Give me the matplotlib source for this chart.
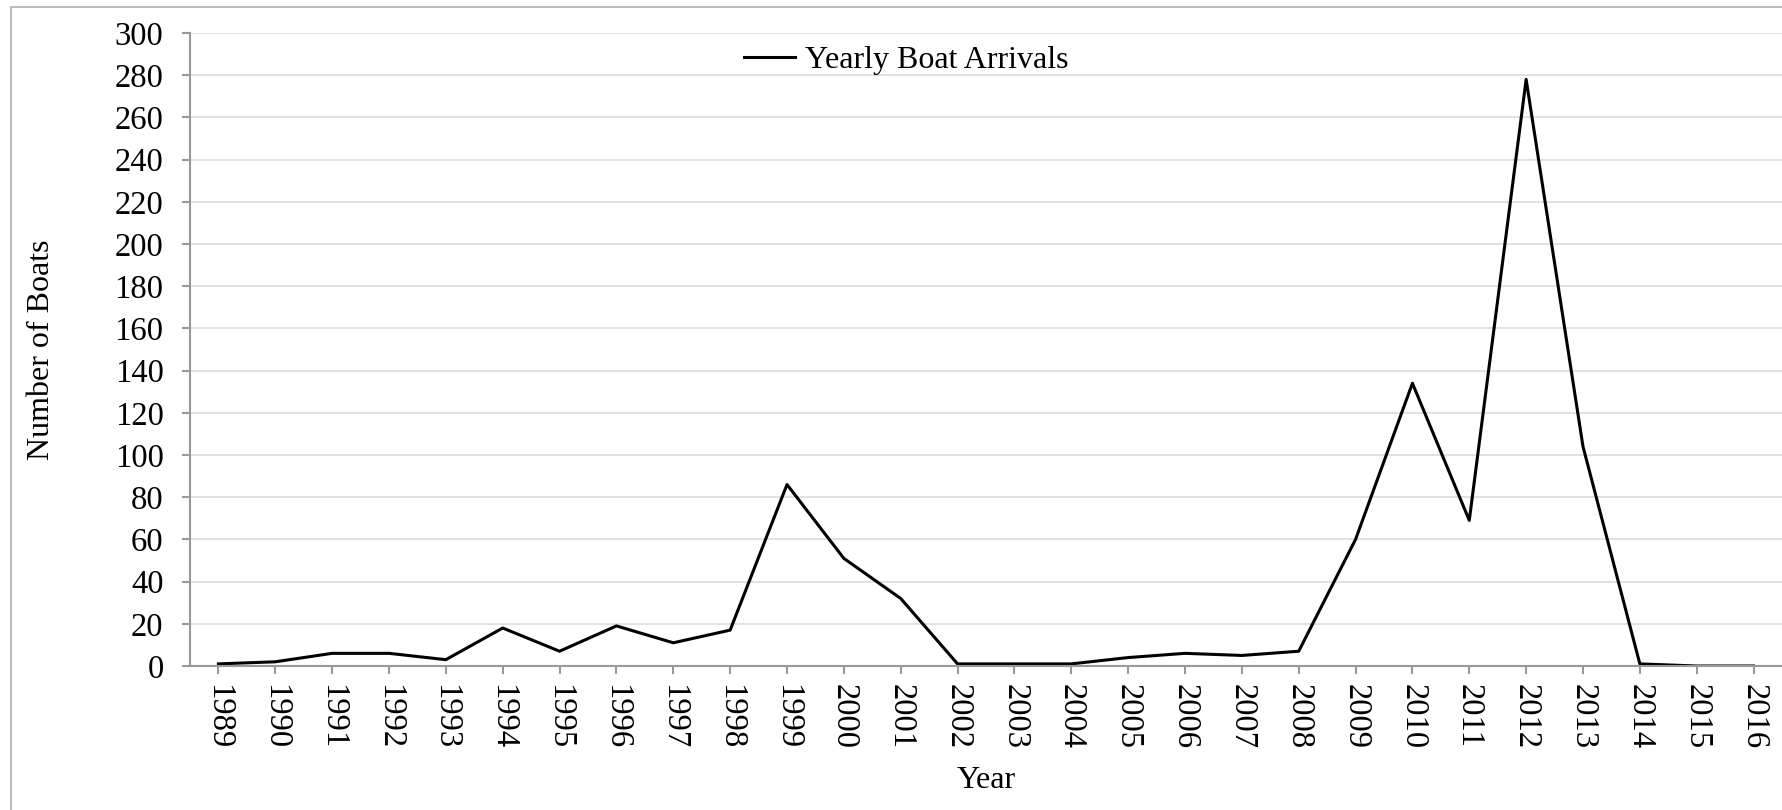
import numpy as np
import matplotlib.pyplot as plt
from matplotlib.patches import Rectangle

# yearly boat arrivals
years = list(range(1989, 2017))
boats = [1, 2, 6, 6, 3, 18, 7, 19, 11, 17,
         86, 51, 32, 1, 1, 1, 4, 6, 5, 7,
         60, 134, 69, 278, 104, 1, 0, 0]
yticks = list(range(0, 301, 20))

plt.rcParams['font.family'] = ['Liberation Serif', 'DejaVu Serif']

fig = plt.figure(figsize=(17.82, 8.10), dpi=100)

# outer chart frame (runs off the right and bottom edges)
fig.patches.append(Rectangle((11/1782, -0.05), 1.2, 1 - 7/810 + 0.05,
                             transform=fig.transFigure, fill=False,
                             edgecolor='#b0b0b0', linewidth=1.2))

ax = fig.add_axes([190/1782, 1 - 666/810, 1 - 190/1782, (666 - 33)/810])

ax.plot(years, boats, color='black', linewidth=2.2, label='Yearly Boat Arrivals')

ax.set_xlim(1988.5, 2016.5)
ax.set_ylim(0, 300)
ax.set_yticks(yticks)
ax.set_xticks(years)
ax.set_xticklabels([str(y) for y in years], rotation=270)

ax.grid(axis='y', color='#dcdcdc', linewidth=1.2)
ax.set_axisbelow(True)

for side in ['top', 'right']:
    ax.spines[side].set_visible(False)
for side in ['left', 'bottom']:
    ax.spines[side].set_color('#999999')
    ax.spines[side].set_linewidth(1.5)

ax.tick_params(axis='y', length=6, width=1.5, color='#999999', labelsize=23.5, pad=13)
ax.tick_params(axis='x', length=6, width=1.5, color='#999999', labelsize=23.5, pad=7)

ax.set_ylabel('Number of Boats', fontsize=23, labelpad=42)
ax.set_xlabel('Year', fontsize=23, labelpad=12)

ax.legend(loc='upper left', bbox_to_anchor=(0.33, 1.025), frameon=False,
          fontsize=23, handlelength=1.6, handletextpad=0.3)

plt.savefig('out.png', dpi=100)
plt.close()
